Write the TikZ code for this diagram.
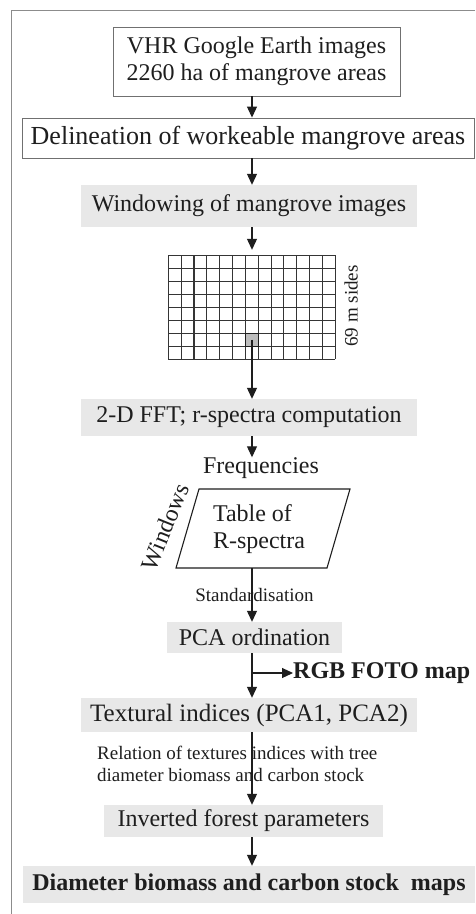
\documentclass[tikz,border=0pt]{standalone}
\usepackage{fontspec}
\setmainfont{Liberation Serif}
\usetikzlibrary{arrows.meta,calc}
\definecolor{boxgray}{HTML}{E8E8E8}
\definecolor{ink}{HTML}{1E1E1E}
\definecolor{edgegray}{HTML}{707070}
\definecolor{framegray}{HTML}{8C8C8C}
\definecolor{cellgray}{HTML}{BDBDBD}
\newcommand\fsM{\fontsize{24}{27}\selectfont}
\newcommand\fsD{\fontsize{26}{29}\selectfont}
\newcommand\fsT{\fontsize{25}{28}\selectfont}
\newcommand\fsS{\fontsize{19}{22}\selectfont}
\tikzset{
  graybox/.style={fill=boxgray, inner sep=0pt, text=ink, font=\fsM},
  whitebox/.style={draw=edgegray, line width=0.9pt, fill=white, inner sep=0pt, text=ink, font=\fsM},
  plain/.style={inner sep=0pt, text=ink, font=\fsM},
  arr/.style={-{Triangle[width=10pt,length=11pt]}, line width=1.1pt, draw=ink},
  gridline/.style={line width=1.1pt, draw=ink!90}
}
\begin{document}
\begin{tikzpicture}[x=1pt,y=1pt]
\useasboundingbox (0,0) rectangle (475,-914);
\fill[white] (0,0) rectangle (475,-914);
\draw[framegray, line width=1pt] (475,-10) -- (11,-10) -- (11,-914);

\coordinate (axis) at (252,0);

% boxes
\node[whitebox, minimum width=287pt, minimum height=69pt, align=center] (vhr) at (256.5,-61.5)
  {VHR Google Earth images\\2260 ha of mangrove areas};
\node[whitebox, minimum width=452pt, minimum height=40pt, font=\fsD] (del) at (248,-138)
  {Delineation of workeable mangrove areas};
\node[graybox, minimum width=336pt, minimum height=42pt] (win) at (249,-206)
  {Windowing of mangrove images};

% grid of windows (13 x 8)
\node[inner sep=0pt, minimum width=167pt, minimum height=104pt] (grid) at (252,-307) {};
\foreach \i in {0,...,13}
  \draw[gridline] ($(grid.south west)+(\i*12.846,0)$) -- ++(0,104);
\foreach \j in {0,...,8}
  \draw[gridline] ($(grid.south west)+(0,\j*13)$) -- ++(167,0);
\node[draw=ink, fill=cellgray, line width=1pt, inner sep=0pt, minimum width=12.846pt, minimum height=13pt] (cell) at (252,-339.5) {};
\node[plain, rotate=90, font=\fsS] (sides) at (351,-306) {69 m sides};

\node[graybox, minimum width=336pt, minimum height=37pt] (fft) at (249,-417.5)
  {2-D FFT; r-spectra computation};
\node[plain] (freq) at (261,-468) {Frequencies};

% table of r-spectra (parallelogram)
\coordinate (p1) at (199,-489);
\coordinate (p2) at (350,-489);
\coordinate (p3) at (327,-568);
\coordinate (p4) at (176,-568);
\draw[line width=1.1pt, draw=ink] (p1) -- (p2) -- (p3) -- (p4) -- cycle;
\node[plain, align=left] (tab) at (259,-529.5) {Table of\\R-spectra};
\node[plain, rotate=68] (wins) at (165,-527) {Windows};
\coordinate (pbot) at (252,-568);

\node[plain, font=\fsS] (std) at (254.5,-595) {Standardisation};
\node[graybox, minimum width=175pt, minimum height=31pt] (pca) at (254.5,-637.5) {PCA ordination};
\node[plain, anchor=west, font=\fsM\bfseries] (rgb) at (293,-673) {RGB FOTO map};
\coordinate (br) at (252,-673);

\node[graybox, minimum width=336pt, minimum height=34pt, font=\fsT] (tex) at (249,-715)
  {Textural indices (PCA1, PCA2)};
\node[plain, anchor=west, align=left, font=\fsS] (rel) at (97,-764)
  {Relation of textures indices with tree\\diameter biomass and carbon stock};
\node[graybox, minimum width=279pt, minimum height=32pt] (inv) at (243.5,-821)
  {Inverted forest parameters};
\node[graybox, minimum width=452pt, minimum height=37pt, font=\fsM\bfseries] (fin) at (249,-884.5)
  {Diameter biomass and carbon stock\ \ maps};

% connectors
\draw[arr] (vhr.south -| axis) -- (del.north -| axis);
\draw[arr] (del.south -| axis) -- (win.north -| axis);
\draw[arr, shorten >=5pt] (win.south -| axis) -- (grid.north -| axis);
\draw[arr] (cell.center) -- (fft.north -| cell.center);
\draw[arr] (fft.south -| axis) -- (freq.north -| axis);
\draw[arr] (pbot) -- (pca.north -| axis);
\draw[arr] (pca.south -| axis) -- (tex.north -| axis);
\draw[arr] (br) -- (rgb.west);
\draw[arr] (tex.south -| axis) -- (inv.north -| axis);
\draw[arr] (inv.south -| axis) -- (fin.north -| axis);
\end{tikzpicture}
\end{document}
